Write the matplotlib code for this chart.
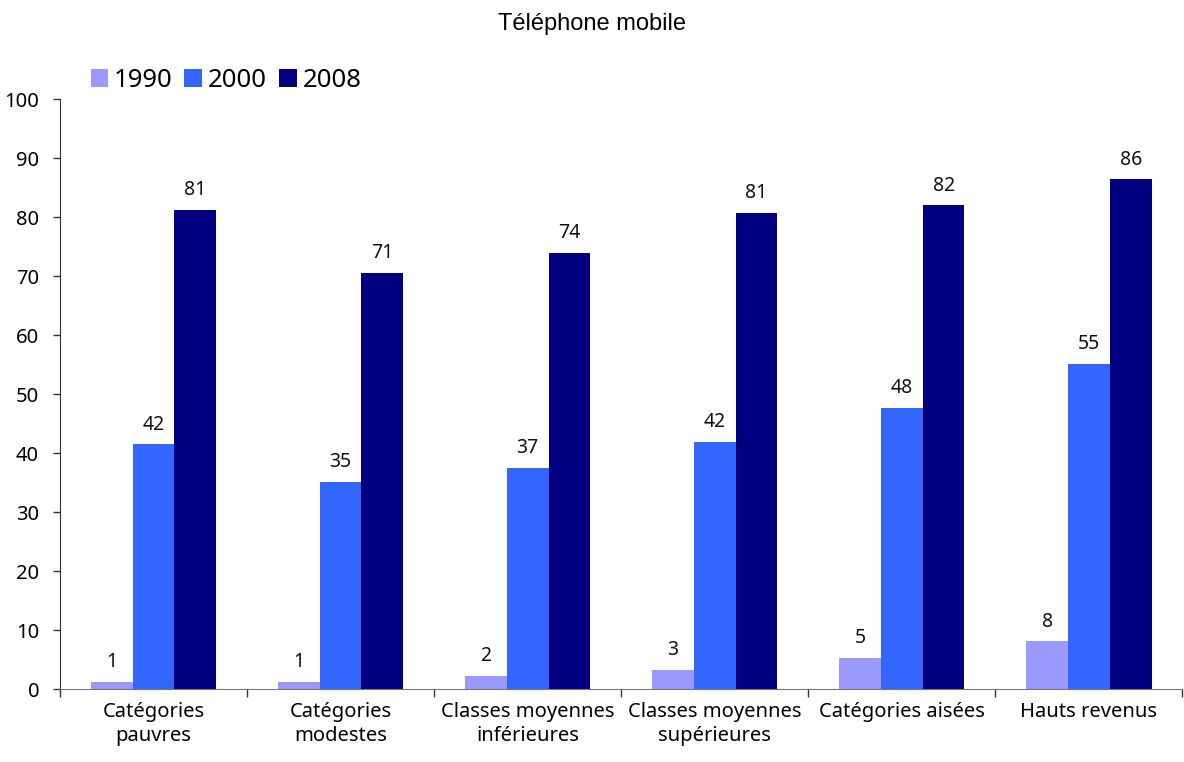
import numpy as np
import matplotlib.pyplot as plt

# Data
categories = ["Catégories\npauvres", "Catégories\nmodestes", "Classes moyennes\ninférieures",
              "Classes moyennes\nsupérieures", "Catégories aisées", "Hauts revenus"]
years = ["1990", "2000", "2008"]
v1990 = [1.2, 1.2, 2.2, 3.3, 5.3, 8.1]
v2000 = [41.5, 35.1, 37.5, 41.9, 47.7, 55.1]
v2008 = [81.3, 70.5, 73.9, 80.7, 82.0, 86.4]
lab1990 = ["1", "1", "2", "3", "5", "8"]
lab2000 = ["42", "35", "37", "42", "48", "55"]
lab2008 = ["81", "71", "74", "81", "82", "86"]
colors = ["#9999FF", "#3366FF", "#000080"]

plt.rcParams['font.family'] = ['Noto Sans', 'DejaVu Sans']

fig = plt.figure(figsize=(11.84, 7.62), dpi=100)
ax = fig.add_axes([0.0507, 0.0958, 0.948, 0.774])

x = np.arange(len(categories))
w = 0.223
series = [v1990, v2000, v2008]
labels = [lab1990, lab2000, lab2008]
for i, (vals, labs, col, yr) in enumerate(zip(series, labels, colors, years)):
    bars = ax.bar(x + (i - 1) * w, vals, width=w, color=col, label=yr)
    for b, v, t in zip(bars, vals, labs):
        ax.annotate(t, (b.get_x() + b.get_width() / 2, v),
                    xytext=(0, 7), textcoords="offset points",
                    ha="center", va="bottom", fontsize=14, color="#111111")

ax.set_xlim(-0.5, len(categories) - 0.5)
ax.set_ylim(0, 100)
ax.set_yticks(range(0, 101, 10))
ax.tick_params(axis='y', labelsize=14.5, length=5, width=1, color="#333333", pad=10)

# category labels centred, ticks on boundaries
ax.set_xticks(x)
ax.set_xticklabels(categories, fontsize=14.5, linespacing=1.3)
ax.tick_params(axis='x', length=0, pad=9)
ax.set_xticks(np.arange(-0.5, len(categories)), minor=True)
ax.tick_params(axis='x', which='minor', length=6, width=1, color="#333333")

for s in ["top", "right"]:
    ax.spines[s].set_visible(False)
ax.spines["left"].set_color("#333333")
ax.spines["bottom"].set_color("#777777")

fig.text(0.5, 0.969, "Téléphone mobile", ha="center", va="center",
         fontsize=17, family=['Liberation Sans', 'DejaVu Sans'])

ax.legend(loc="upper left", bbox_to_anchor=(0.018, 1.07), ncol=3, frameon=False,
          fontsize=18.5, handlelength=0.7, handleheight=0.7, handletextpad=0.22,
          columnspacing=0.45, borderaxespad=0)

fig.savefig("out.png", dpi=100)
